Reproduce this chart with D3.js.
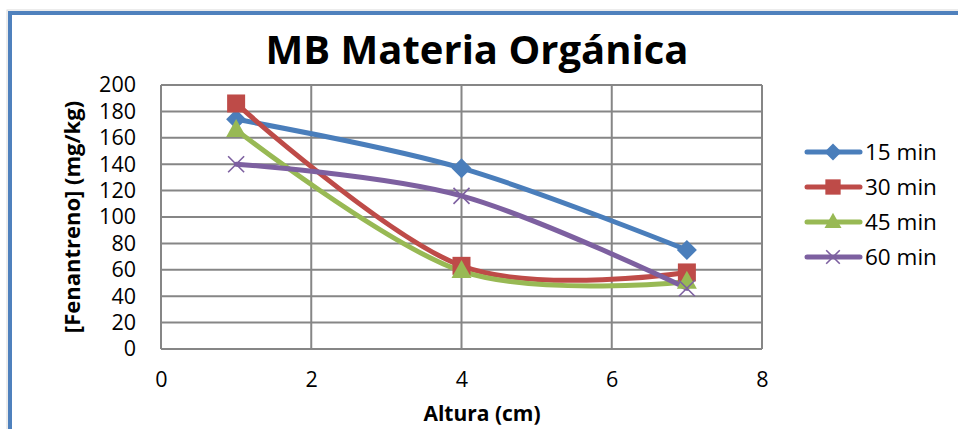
<!DOCTYPE html>
<html>
<head>
<meta charset="utf-8">
<script src="https://cdn.jsdelivr.net/npm/d3@7/dist/d3.min.js"></script>
<style>
  html, body { margin: 0; padding: 0; background: #fff; }
  svg { display: block; }
  text { font-family: "Open Sans", "Liberation Sans", sans-serif; fill: #000; }
</style>
</head>
<body>
<svg id="chart" width="958" height="429"></svg>
<script>
// Height along the column (cm)
const altura = [1, 4, 7];
// Series names (contact time)
const seriesNames = ["15 min", "30 min", "45 min", "60 min"];
// Phenanthrene concentration (mg/kg) per series
const v15 = [174, 137, 75];
const v30 = [186, 63, 58];
const v45 = [166, 59, 51];
const v60 = [140, 116, 46];
const xTicks = [0, 2, 4, 6, 8];
const yTicks = [0, 20, 40, 60, 80, 100, 120, 140, 160, 180, 200];

const colors = ["#4A7EBB", "#BE4B48", "#98B954", "#7D60A0"];
const markers = ["diamond", "square", "triangle", "cross"];
const values = [v15, v30, v45, v60];

const svg = d3.select("#chart");

// outer chart frame
svg.append("rect").attr("x", 7).attr("y", 10).attr("width", 960).attr("height", 430)
  .attr("fill", "none").attr("stroke", "#d9d9d9").attr("stroke-width", 1);
svg.append("rect").attr("x", 10).attr("y", 13).attr("width", 960).attr("height", 430)
  .attr("fill", "none").attr("stroke", "#4F81BD").attr("stroke-width", 4);

const plot = { left: 161, right: 762, top: 85, bottom: 349 };
const x = d3.scaleLinear().domain([0, 8]).range([plot.left, plot.right]);
const y = d3.scaleLinear().domain([0, 200]).range([plot.bottom, plot.top]);

// gridlines
const grid = svg.append("g").attr("stroke", "#868686").attr("stroke-width", 2);
yTicks.forEach(t => grid.append("line")
  .attr("x1", plot.left).attr("x2", plot.right).attr("y1", y(t)).attr("y2", y(t)));
xTicks.forEach(t => grid.append("line")
  .attr("x1", x(t)).attr("x2", x(t)).attr("y1", plot.top).attr("y2", plot.bottom));

// axes
const yAxis = svg.append("g").attr("transform", `translate(${plot.left},0)`)
  .call(d3.axisLeft(y).tickValues(yTicks).tickSize(0).tickPadding(25));
const xAxis = svg.append("g").attr("transform", `translate(0,${plot.bottom})`)
  .call(d3.axisBottom(x).tickValues(xTicks).tickSize(0).tickPadding(23));
[yAxis, xAxis].forEach(a => {
  a.select(".domain").remove();
  a.selectAll("text").style("font-family", '"Open Sans", sans-serif').style("font-size", "21.5px").attr("fill", "#000");
});

// series lines
const line = d3.line().x(d => x(d[0])).y(d => y(d[1])).curve(d3.curveCardinal.tension(0));
values.forEach((vals, i) => {
  const pts = altura.map((a, j) => [a, vals[j]]);
  svg.append("path").datum(pts).attr("d", line)
    .attr("fill", "none").attr("stroke", colors[i]).attr("stroke-width", 5)
    .attr("stroke-linecap", "round").attr("stroke-linejoin", "round");
});

function drawMarker(g, type, cx, cy, color, s) {
  if (type === "diamond") {
    const r = 10 * s;
    g.append("path").attr("d", `M${cx},${cy - r}L${cx + r},${cy}L${cx},${cy + r}L${cx - r},${cy}Z`).attr("fill", color);
  } else if (type === "square") {
    const r = 9 * s;
    g.append("rect").attr("x", cx - r).attr("y", cy - r).attr("width", 2 * r).attr("height", 2 * r).attr("fill", color);
  } else if (type === "triangle") {
    g.append("path").attr("d", `M${cx},${cy - 11 * s}L${cx + 10 * s},${cy + 7 * s}L${cx - 10 * s},${cy + 7 * s}Z`).attr("fill", color);
  } else {
    const r = 8 * s;
    g.append("path").attr("d", `M${cx - r},${cy - r}L${cx + r},${cy + r}M${cx - r},${cy + r}L${cx + r},${cy - r}`)
      .attr("stroke", color).attr("stroke-width", 1.6).attr("fill", "none");
  }
}

// markers
values.forEach((vals, i) => {
  const g = svg.append("g");
  altura.forEach((a, j) => drawMarker(g, markers[i], x(a), y(vals[j]), colors[i], 1));
});

// legend
const legend = svg.append("g");
seriesNames.forEach((name, i) => {
  const ly = 152 + i * 35;
  legend.append("line").attr("x1", 807).attr("x2", 860).attr("y1", ly).attr("y2", ly)
    .attr("stroke", colors[i]).attr("stroke-width", 5).attr("stroke-linecap", "round");
  drawMarker(legend, markers[i], 833, ly, colors[i], 0.85);
  legend.append("text").attr("x", 865).attr("y", ly).attr("dy", "0.35em")
    .style("font-size", "22.5px").text(name);
});

// title and axis titles
svg.append("text").attr("x", 477).attr("y", 64).attr("text-anchor", "middle")
  .style("font-size", "40px").style("font-weight", "bold").text("MB Materia Orgánica");
svg.append("text").attr("x", 482).attr("y", 421).attr("text-anchor", "middle")
  .style("font-size", "21px").style("font-weight", "bold").text("Altura (cm)");
svg.append("text").attr("transform", "translate(80,217) rotate(-90)").attr("text-anchor", "middle")
  .style("font-size", "22px").style("font-weight", "bold").text("[Fenantreno] (mg/kg)");
</script>
</body>
</html>
